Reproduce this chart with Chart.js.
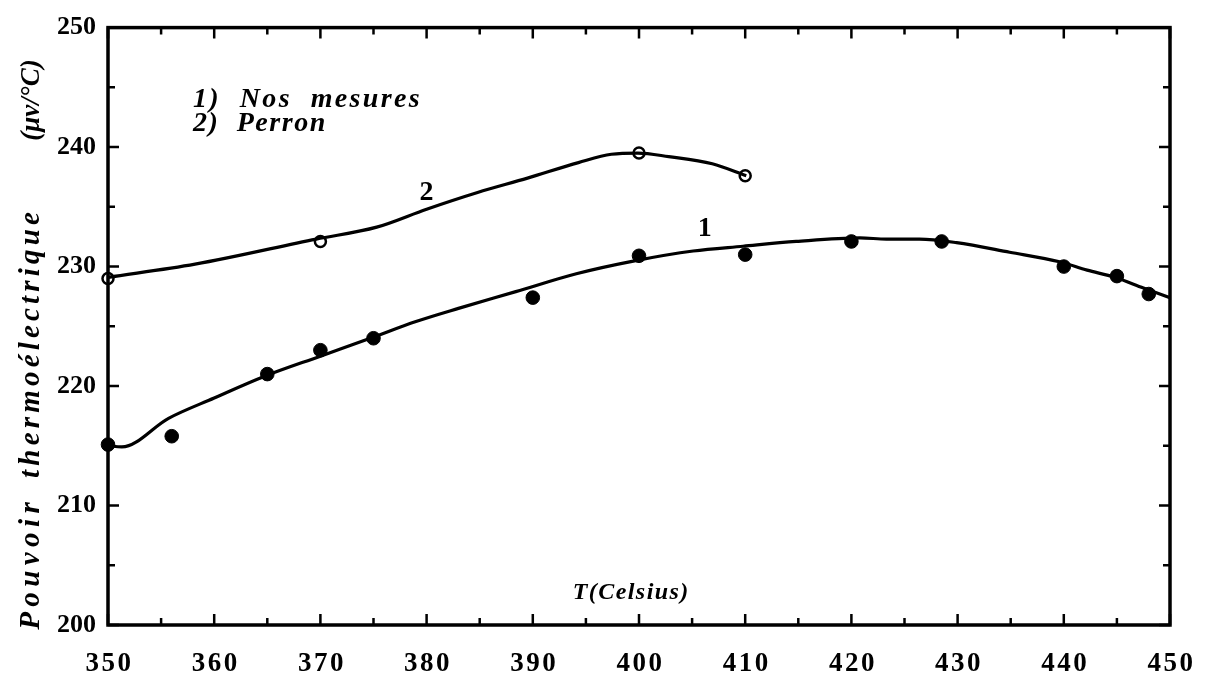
<!DOCTYPE html>
<html>
<head>
<meta charset="utf-8">
<script src="https://cdn.jsdelivr.net/npm/chart.js@4/dist/chart.umd.min.js"></script>
<style>
html,body{margin:0;padding:0;background:#fff;}
canvas{display:block;}
</style>
</head>
<body>
<canvas id="c" width="1206" height="677"></canvas>
<script>
// ---- Data ----
// Series 1 : "Nos mesures" (filled dots)
const pts1X = [350, 356, 365, 370, 375, 390, 400, 410, 420, 428.5, 440, 445, 448];
const pts1Y = [215.1, 215.8, 221.0, 223.0, 224.0, 227.4, 230.9, 231.0, 232.1, 232.1, 230.0, 229.2, 227.7];
// Smooth curve 1
const curve1X = [350, 351.3, 355.7, 360, 364.7, 370, 374.7, 379, 383, 388.4, 394.1, 399.7, 405.1, 409.8, 414.8, 420.8, 423.3, 426.4, 429.9, 434.9, 439.6, 442.2, 444.8, 447.5, 450];
const curve1Y = [215.0, 214.9, 217.3, 219.0, 220.8, 222.5, 224.0, 225.4, 226.5, 227.9, 229.4, 230.5, 231.3, 231.7, 232.1, 232.4, 232.3, 232.3, 232.0, 231.2, 230.4, 229.7, 229.1, 228.2, 227.4];
// Series 2 : "Perron" (open circles)
const pts2X = [350, 370, 400, 410];
const pts2Y = [229.0, 232.1, 239.5, 237.6];
const curve2X = [350, 358.2, 369.6, 375.3, 380, 384.8, 389.5, 394.3, 397.4, 399.9, 402.8, 406.9, 410.1];
const curve2Y = [229.1, 230.2, 232.3, 233.3, 234.8, 236.2, 237.4, 238.7, 239.4, 239.5, 239.2, 238.6, 237.6];

// Ticks
const xTickLabels = [350, 360, 370, 380, 390, 400, 410, 420, 430, 440, 450];
const xMinorTicks = [355, 365, 375, 385, 395, 405, 415, 425, 435, 445];
const yTickLabels = [200, 210, 220, 230, 240, 250];
const yMinorTicks = [205, 215, 225, 235, 245];

// Text annotations (in data coordinates)
const curveLabels = [{text: '2', x: 380.0, y: 236.2}, {text: '1', x: 406.2, y: 233.2}];
const xTitle = {text: 'T(Celsius)', x: 399.2, y: 202.7};
const legendLines = ['1)  Nos  mesures', '2)  Perron'];
const yTitleParts = ['Pouvoir', 'thermoélectrique', '(μv/°C)'];

const toPts = (xs, ys) => xs.map((v, i) => ({x: v, y: ys[i]}));
const SERIF = '"Liberation Serif", "DejaVu Serif", serif';

function spacedText(ctx, s, x, y, span) {
  ctx.letterSpacing = '0px';
  const w = ctx.measureText(s).width;
  const sp = Math.max(0, (span - w) / s.length);
  ctx.letterSpacing = sp + 'px';
  const off = ctx.textAlign === 'center' ? sp / 2 : 0;
  ctx.fillText(s, x + off, y);
  ctx.letterSpacing = '0px';
}

const deco = {
  id: 'deco',
  afterDraw(chart) {
    const {ctx, chartArea: a, scales: {x, y}} = chart;
    ctx.save();
    ctx.strokeStyle = '#000';
    ctx.fillStyle = '#000';
    // frame
    ctx.lineWidth = 3.5;
    ctx.strokeRect(a.left, a.top, a.right - a.left, a.bottom - a.top);
    // inward ticks
    ctx.lineWidth = 2.5;
    ctx.beginPath();
    const xt = (v, L) => { const p = x.getPixelForValue(v); ctx.moveTo(p, a.bottom); ctx.lineTo(p, a.bottom - L); ctx.moveTo(p, a.top); ctx.lineTo(p, a.top + L); };
    const yt = (v, L) => { const p = y.getPixelForValue(v); ctx.moveTo(a.left, p); ctx.lineTo(a.left + L, p); ctx.moveTo(a.right, p); ctx.lineTo(a.right - L, p); };
    xTickLabels.forEach(v => xt(v, 11));
    xMinorTicks.forEach(v => xt(v, 7));
    yTickLabels.forEach(v => yt(v, 11));
    yMinorTicks.forEach(v => yt(v, 7));
    ctx.stroke();

    // x tick labels (letter spaced)
    ctx.font = 'bold 27px ' + SERIF;
    ctx.textAlign = 'center';
    ctx.textBaseline = 'middle';
    xTickLabels.forEach(v => {
      ctx.letterSpacing = '2.5px';
      ctx.fillText(String(v), x.getPixelForValue(v) + 1.5, a.bottom + 39);
    });
    ctx.letterSpacing = '0px';

    // x title inside plot
    ctx.font = 'bold italic 24px ' + SERIF;
    spacedText(ctx, xTitle.text, x.getPixelForValue(xTitle.x), y.getPixelForValue(xTitle.y), 117);

    // curve labels
    ctx.font = 'bold 28px ' + SERIF;
    curveLabels.forEach(l => ctx.fillText(l.text, x.getPixelForValue(l.x), y.getPixelForValue(l.y)));

    // legend text
    ctx.font = 'bold italic 28px ' + SERIF;
    ctx.textAlign = 'left';
    ctx.textBaseline = 'alphabetic';
    spacedText(ctx, legendLines[0], 193, 107, 229);
    spacedText(ctx, legendLines[1], 193, 131, 134);

    // y title (rotated)
    ctx.translate(32, 0);
    ctx.rotate(-Math.PI / 2);
    ctx.textAlign = 'center';
    ctx.textBaseline = 'middle';
    ctx.font = 'bold italic 29px ' + SERIF;
    spacedText(ctx, yTitleParts[0], -566, 0, 133);
    spacedText(ctx, yTitleParts[1], -345, 0, 270);
    ctx.font = 'bold italic 27px ' + SERIF;
    spacedText(ctx, yTitleParts[2], -100, 0, 75);
    ctx.restore();
  }
};

new Chart(document.getElementById('c'), {
  type: 'scatter',
  data: {
    datasets: [
      {label: 'curve1', data: toPts(curve1X, curve1Y), showLine: true, borderColor: '#000', borderWidth: 3.2, pointRadius: 0, cubicInterpolationMode: 'monotone', fill: false},
      {label: 'curve2', data: toPts(curve2X, curve2Y), showLine: true, borderColor: '#000', borderWidth: 3.2, pointRadius: 0, cubicInterpolationMode: 'monotone', fill: false},
      {label: 'Nos mesures', data: toPts(pts1X, pts1Y), showLine: false, pointRadius: 6.8, pointBackgroundColor: '#000', pointBorderColor: '#000', pointBorderWidth: 1, clip: false},
      {label: 'Perron', data: toPts(pts2X, pts2Y), showLine: false, pointRadius: 5.5, pointBackgroundColor: '#fff', pointBorderColor: '#000', pointBorderWidth: 2.5, clip: false}
    ]
  },
  options: {
    responsive: false,
    animation: false,
    devicePixelRatio: 1,
    layout: {padding: {top: 14, right: 36, left: 0, bottom: 0}},
    plugins: {legend: {display: false}, tooltip: {enabled: false}},
    scales: {
      x: {
        type: 'linear', min: 350, max: 450,
        grid: {display: false}, border: {display: false},
        ticks: {display: false, stepSize: 10},
        afterFit: s => { s.height = 52; }
      },
      y: {
        type: 'linear', min: 200, max: 250,
        grid: {display: false, drawTicks: false}, border: {display: false},
        ticks: {stepSize: 10, padding: 12, color: '#000', font: {family: SERIF, size: 26, weight: 'bold'}},
        afterFit: s => { s.width = 108; }
      }
    }
  },
  plugins: [deco]
});
</script>
</body>
</html>
